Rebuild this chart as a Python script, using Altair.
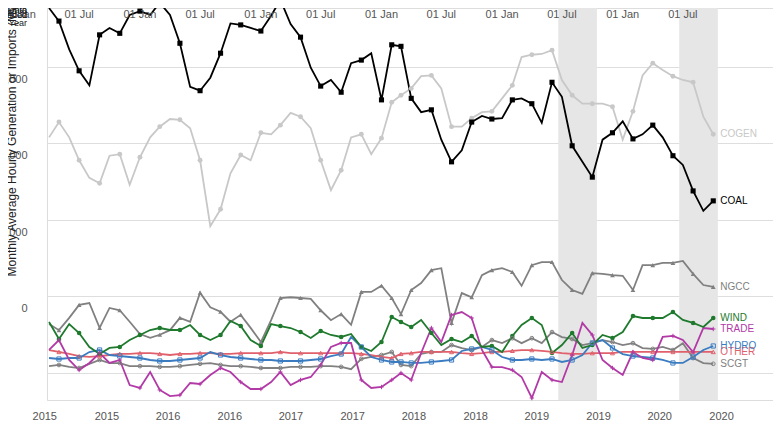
import altair as alt
import pandas as pd

# ---------------- data ----------------
months = pd.date_range("2015-04-01", "2020-10-01", freq="MS")

series_names = ["COGEN", "NGCC", "SCGT", "OTHER", "HYDRO", "TRADE", "WIND", "COAL"]
series_colors = ["#c8c8c8", "#808080", "#808080", "#e0606c", "#3b7cc0", "#b23aa6", "#1f7a2e", "#000000"]

coal = [4770, 4600, 4230, 3950, 3760, 4420, 4510, 4440, 4680, 4730, 4680, 4840, 4680, 4310, 3740, 3690,
        3860, 4180, 4570, 4550, 4510, 4470, 4670, 4880, 4560, 4390, 3990, 3750, 3830, 3670, 4050, 4090,
        4180, 3570, 4290, 4270, 3590, 3410, 3440, 3050, 2760, 2910, 3280, 3360, 3320, 3330, 3570, 3590,
        3520, 3270, 3800, 3610, 2970, 2760, 2560, 3050, 3140, 3290, 3060, 3120, 3240, 3080, 2840, 2720,
        2380, 2120, 2250]
cogen = [3080, 3280, 3080, 2780, 2550, 2480, 2840, 2860, 2460, 2820, 3080, 3220, 3320, 3310, 3200, 2780,
         1920, 2140, 2610, 2850, 2780, 3140, 3120, 3240, 3400, 3350, 3200, 2780, 2390, 2650, 3080, 3120,
         2860, 3070, 3540, 3630, 3720, 3880, 3890, 3720, 3220, 3220, 3330, 3410, 3420, 3590, 3760, 4130,
         4160, 4170, 4220, 3830, 3630, 3520, 3520, 3520, 3480, 3050, 3420, 3890, 4050, 3960, 3880, 3830,
         3800, 3350, 3120]
ngcc = [640, 560, 720, 890, 915, 590, 850, 820, 670, 510, 460, 500, 560, 720, 670, 1050,
        860, 800, 670, 760, 590, 405, 690, 980, 990, 980, 970, 820, 690, 770, 630, 1060,
        1060, 1140, 980, 770, 1085, 1175, 1345, 1370, 655, 1045, 990, 1280, 1345, 1370, 1320, 1140,
        1410, 1450, 1450, 1215, 1085, 1035, 1305, 1295, 1280, 1270, 1085, 1410, 1410, 1440, 1440, 1465,
        1295, 1150, 1125]
wind = [667, 444, 640, 523, 340, 248, 327, 340, 431, 497, 562, 588, 562, 562, 627, 497,
        431, 497, 680, 614, 431, 353, 640, 614, 588, 536, 457, 549, 497, 471, 510, 340,
        288, 405, 732, 667, 601, 693, 523, 366, 444, 405, 484, 340, 353, 274, 484, 627,
        719, 627, 261, 366, 523, 327, 366, 497, 457, 536, 745, 719, 719, 719, 797, 693,
        654, 601, 719]
trade = [301, 431, 170, 39, 131, 261, 131, 170, -157, -196, 13, -222, -301, -288, -131, -144,
         -26, 65, 13, -118, -209, -209, -118, 13, -157, -91, -52, 105, 340, 392, 392, -91,
         -196, -183, -91, 0, -91, 261, 588, 405, 758, 797, 719, 301, 78, 78, 39, -52,
         -327, 13, -91, -118, 235, 654, 497, 170, 65, -26, 274, 196, 170, 471, 484, 431,
         274, 588, 575]
hydro = [196, 183, 196, 196, 274, 301, 235, 222, 209, 196, 170, 157, 157, 170, 183, 196,
         274, 235, 209, 196, 183, 170, 170, 157, 157, 157, 170, 183, 222, 248, 471, 340,
         209, 170, 144, 144, 131, 131, 144, 157, 170, 288, 314, 340, 301, 209, 170, 170,
         183, 170, 183, 144, 170, 235, 392, 431, 327, 248, 222, 209, 196, 170, 131, 131,
         209, 301, 353]
other = [300, 275, 250, 220, 210, 220, 235, 250, 250, 260, 260, 250, 235, 250, 250, 260,
         260, 250, 250, 260, 260, 260, 260, 275, 260, 260, 260, 260, 260, 260, 260, 250,
         235, 210, 195, 250, 260, 275, 275, 275, 275, 260, 250, 260, 275, 275, 290, 300,
         300, 290, 275, 260, 250, 250, 260, 260, 260, 275, 275, 275, 275, 275, 275, 275,
         275, 275, 275]
scgt = [90, 105, 80, 65, 120, 170, 130, 130, 90, 90, 90, 80, 80, 90, 105, 120,
        130, 105, 90, 90, 80, 65, 65, 65, 80, 80, 80, 90, 90, 80, 50, 185,
        210, 235, 275, 105, 90, 250, 275, 275, 365, 325, 300, 340, 430, 390, 455, 390,
        455, 390, 535, 470, 445, 365, 390, 430, 405, 365, 390, 325, 315, 340, 300, 390,
        195, 130, 120]

values_by_series = {"COAL": coal, "COGEN": cogen, "NGCC": ngcc, "WIND": wind,
                    "TRADE": trade, "HYDRO": hydro, "OTHER": other, "SCGT": scgt}

shade_start = ["2019-06-20T00:00:00", "2020-06-20T00:00:00"]
shade_end = ["2019-10-15T00:00:00", "2020-10-15T00:00:00"]

top_tick_dates = ["2015-01-01", "2015-07-01", "2016-01-01", "2016-07-01", "2017-01-01", "2017-07-01",
                  "2018-01-01", "2018-07-01", "2019-01-01", "2019-07-01", "2020-01-01", "2020-07-01"]
top_tick_labels = ["01 Jan", "01 Jul"] * 6

bottom_tick_dates = ["2015-03-19", "2015-09-23", "2016-03-26", "2016-09-29", "2017-04-02", "2017-10-06",
                     "2018-04-09", "2018-10-13", "2019-04-16", "2019-10-20", "2020-04-22", "2020-10-26"]
bottom_tick_labels = ["2015", "2015", "2016", "2016", "2017", "2017",
                      "2018", "2018", "2019", "2019", "2020", "2020"]

corner_line1 = ["Month", "Data"]
corner_line2 = ["Period", "Shaded"]
corner_line3 = ["Last Year"]

# ---------------- tables ----------------
rows = []
for name in series_names:
    vals = values_by_series[name]
    for i, (d, v) in enumerate(zip(months, vals)):
        mk = (i <= 35 and i % 2 == 1) or (i >= 34 and i % 2 == 0)
        rows.append({"date": d.strftime("%Y-%m-%dT00:00:00"), "series": name, "value": v,
                     "idx": i, "marker": mk})
df = pd.DataFrame(rows)
last = df[df["idx"] == len(months) - 1].copy()

shade_df = pd.DataFrame({"start": shade_start, "end": shade_end})
top_df = pd.DataFrame({"date": [d + "T00:00:00" for d in top_tick_dates], "label": top_tick_labels})
bot_df = pd.DataFrame({"date": [d + "T00:00:00" for d in bottom_tick_dates], "label": bottom_tick_labels})

# ---------------- scales / encodings ----------------
W, H = 726, 392
xscale = alt.Scale(domain=[alt.DateTime(year=2015, month=3, date=25, hours=19),
                           alt.DateTime(year=2021, month=3, date=30, hours=19)], nice=False)
yscale = alt.Scale(domain=[-353, 4771], nice=False, zero=False)
yaxis = alt.Axis(values=[0, 1000, 2000, 3000, 4000], grid=True, gridColor="#dedede", gridWidth=1,
                 domain=False, ticks=False, labelPadding=20, labelOffset=-64, labelFontSize=11,
                 labelColor="#555555", title="Monthly Average Hourly Generation or Imports (MW)",
                 titleX=-36, titleY=128, titleFontSize=12, titleFontWeight="normal", titleColor="#222222",
                 titleAlign="center", titleBaseline="middle", titleAngle=270)
X = alt.X("date:T", scale=xscale, axis=None)
Y = alt.Y("value:Q", scale=yscale, axis=yaxis)
color = alt.Color("series:N", scale=alt.Scale(domain=series_names, range=series_colors), legend=None)

shape_domain = ["COAL", "COGEN", "NGCC", "WIND", "TRADE", "HYDRO", "OTHER", "SCGT"]
shape_range = ["square", "circle", "triangle-up", "circle", "M-1,0L1,0M0,-1L0,1", "square", "triangle-up", "circle"]
shape = alt.Shape("series:N", scale=alt.Scale(domain=shape_domain, range=shape_range), legend=None)
size = alt.Size("series:N", scale=alt.Scale(domain=shape_domain, range=[26, 14, 26, 12, 40, 26, 26, 26]),
                legend=None)

shade = alt.Chart(shade_df).mark_rect(color="#e6e6e6").encode(
    x=alt.X("start:T", scale=xscale, axis=None), x2="end:T",
    y=alt.value(0), y2=alt.value(H))

lines = alt.Chart(df).mark_line(strokeWidth=1.8).encode(
    x=X, y=Y, color=color, detail="series:N", order="idx:Q")

filled_pts = alt.Chart(df).mark_point(filled=True, opacity=1).encode(
    x=X, y=Y, color=color, shape=shape, size=size
).transform_filter(alt.datum.marker).transform_filter(
    alt.FieldOneOfPredicate(field="series", oneOf=["COAL", "COGEN", "NGCC", "WIND"]))

open_pts = alt.Chart(df).mark_point(filled=False, strokeWidth=1, opacity=1).encode(
    x=X, y=Y, color=color, shape=shape, size=size
).transform_filter(alt.datum.marker).transform_filter(
    alt.FieldOneOfPredicate(field="series", oneOf=["TRADE", "HYDRO", "OTHER", "SCGT"]))

end_labels = alt.Chart(last).mark_text(align="left", baseline="middle", dx=7, fontSize=10).encode(
    x=X, y=Y, text="series:N", color=color)

top_labels = alt.Chart(top_df).mark_text(baseline="top", fontSize=11, color="#555555").encode(
    x=alt.X("date:T", scale=xscale, axis=None), y=alt.value(1), text="label:N")

bottom_labels = alt.Chart(bot_df).mark_text(baseline="alphabetic", fontSize=11, color="#555555").encode(
    x=alt.X("date:T", scale=xscale, axis=None), y=alt.value(H + 20), text="label:N")


def corner_text(words, ypix):
    return alt.Chart(pd.DataFrame({"text": words})).mark_text(
        align="right", baseline="middle", fontSize=9, color="#222222"
    ).encode(x=alt.value(-20), y=alt.value(ypix), text="text:N")


corner1 = corner_text(corner_line1, 2)
corner2 = corner_text(corner_line2, 7)
corner3 = corner_text(corner_line3, 15)

chart = alt.layer(shade, lines, filled_pts, open_pts, end_labels, top_labels, bottom_labels,
                  corner1, corner2, corner3).properties(
    width=W, height=H,
    autosize=alt.AutoSizeParams(type="none"),
    padding={"left": 39, "top": 0, "right": 0, "bottom": 22},
).configure_view(stroke=None).configure(font="Liberation Sans")

chart.save("out.html", embed_options={"renderer": "svg", "actions": False})
